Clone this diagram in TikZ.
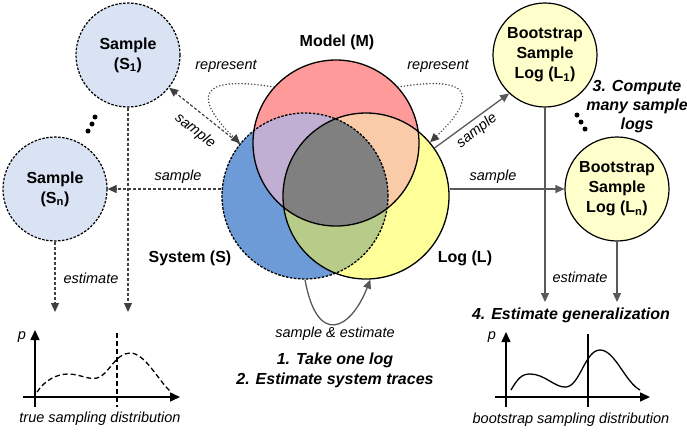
\documentclass[tikz,border=0pt]{standalone}
\usepackage{fontspec}
\setmainfont{Liberation Sans}
\usetikzlibrary{arrows.meta}

\begin{document}
\begin{tikzpicture}[x=1pt, y=-1pt,
  bigfont/.style={font=\fontsize{16}{20}\selectfont\bfseries},
  task/.style={font=\fontsize{16}{20}\selectfont\bfseries\itshape, align=center},
  lbl/.style={font=\fontsize{14.5}{17}\selectfont\itshape},
  venn/.style={circle, minimum size=166pt, inner sep=0pt, line width=1.3pt, draw=black},
  smp/.style={circle, minimum size=104pt, inner sep=0pt, draw=black, fill=smpblue, line width=1.2pt, dash pattern=on 2.5pt off 1.5pt, bigfont, align=center},
  boot/.style={circle, minimum size=104pt, inner sep=0pt, draw=black, fill=bootyellow, line width=1.2pt, bigfont, align=center},
  dasharr/.style={-{Triangle[length=9pt,width=8pt]}, draw=dashgray, line width=1.2pt, dash pattern=on 3pt off 2pt},
  solarr/.style={-{Triangle[length=9pt,width=8pt]}, draw=arrgray, line width=1.3pt},
  reparr/.style={-{Triangle[length=9pt,width=8pt]}, draw=dashgray, line width=1.6pt, dash pattern=on 0pt off 3.2pt, line cap=round},
  axis/.style={-{Triangle[length=10pt,width=9pt]}, line width=1.5pt}
]

% Colors
\definecolor{sysblue}{RGB}{109,155,216}    % system
\definecolor{logyellow}{RGB}{255,255,153}  % log
\definecolor{modred}{RGB}{255,154,154}     % model
\definecolor{mspurple}{RGB}{192,174,211}
\definecolor{mlpeach}{RGB}{249,203,168}
\definecolor{slgreen}{RGB}{182,204,136}
\definecolor{allgray}{RGB}{128,128,128}
\definecolor{smpblue}{RGB}{218,227,243}
\definecolor{bootyellow}{RGB}{255,255,204}
\definecolor{arrgray}{RGB}{89,89,89}
\definecolor{dashgray}{RGB}{64,64,64}

\useasboundingbox (0,0) rectangle (687,432);

% === VENN ===
\fill[sysblue] (305,196) circle (83);
\fill[logyellow] (366,196) circle (83);
\fill[modred] (336,143) circle (83);
\begin{scope}
  \clip (305,196) circle (83);
  \fill[slgreen] (366,196) circle (83);
\end{scope}
\begin{scope}
  \clip (336,143) circle (83);
  \fill[mspurple] (305,196) circle (83);
  \fill[mlpeach] (366,196) circle (83);
  \clip (305,196) circle (83);
  \fill[allgray] (366,196) circle (83);
\end{scope}

\node[venn, dash pattern=on 2.5pt off 1.5pt] (sys) at (305,196) {};
\node[venn] (mod) at (336,143) {};
\node[venn] (log) at (366,196) {};

\node[bigfont] (modlbl) at (337,42) {Model (M)};
\node[bigfont] (syslbl) at (190,258) {System (S)};
\node[bigfont] (loglbl) at (465,258) {Log (L)};

% === SAMPLES ===
\node[smp] (s1) at (128,55) {Sample\\(S\textsubscript{1})};
\node[smp] (sn) at (55,189) {Sample\\(S\textsubscript{n})};
\fill (95,117) circle (2.5);
\fill (92,124) circle (2.5);
\fill (88,131) circle (2.5);

% === BOOTSTRAP LOGS ===
\node[boot] (l1) at (545,55) {Bootstrap\\Sample\\Log (L\textsubscript{1})};
\node[boot] (ln) at (617,189) {Bootstrap\\Sample\\Log (L\textsubscript{n})};
\fill (577,115) circle (2.5);
\fill (581,122) circle (2.5);
\fill (585,129) circle (2.5);
\node[task, font=\fontsize{16}{19}\selectfont\bfseries\itshape] (compute) at (637,107) {3. Compute\\many sample\\logs};

% === ARROWS ===
\draw[reparr] (mod.138) .. controls +(-92,-15) and +(-35,-34) .. (sys.141);
\draw[reparr] (mod.42) .. controls +(92,-15) and +(35,-33) .. (log.40);
\node[lbl] (repl) at (226,66) {represent};
\node[lbl] (repr) at (438,66) {represent};

\draw[dasharr] (sys) -- (s1);
\node[lbl, rotate=-38] (smpa) at (195,131) {sample};
\draw[dasharr] (sys.west |- sn) -- (sn);
\node[lbl] (smpb) at (178,177) {sample};

\draw[solarr] (log.35) -- (l1.227);
\node[lbl, rotate=38] (smpc) at (477,131) {sample};
\draw[solarr] (log.east |- ln) -- (ln);
\node[lbl] (smpd) at (493,177) {sample};

\draw[solarr] (sys.south) .. controls +(12,67) and +(-20,51) .. (log.-87);
\node[lbl] (smpest) at (335,334) {sample \& estimate};
\node[task] (steps) at (335,370) {1. Take one log\\2. Estimate system traces};

% === ESTIMATE ===
\coordinate (s1end) at (128,312);
\coordinate (snend) at (55,312);
\draw[dasharr] (s1.south) -- (s1end);
\draw[dasharr] (sn.south) -- (snend);
\node[lbl] (estl) at (91,278) {estimate};

\coordinate (l1end) at (545,302);
\coordinate (lnend) at (617,302);
\draw[solarr] (l1.south) -- (l1end);
\draw[solarr] (ln.south) -- (lnend);
\node[lbl] (estr) at (580,277) {estimate};
\node[task] (gen) at (571,315) {4. Estimate generalization};

% === TRUE DISTRIBUTION ===
\draw[axis] (23,397) -- (180,397);
\draw[axis] (35,407) -- (35,330);
\node[lbl] (pl) at (22,337) {p};
\draw[line width=1.3pt, dash pattern=on 5pt off 3pt] (37,392) .. controls (45,380) and (57,374) .. (68,374)
  .. controls (80,374) and (88,380) .. (97,378) .. controls (108,376) and (115,353) .. (130,353)
  .. controls (145,353) and (158,380) .. (170,391);
\draw[line width=1.3pt, dash pattern=on 5pt off 3pt] (117,333) -- (117,407);
\node[lbl] (truedist) at (100,419) {true sampling distribution};

% === BOOTSTRAP DISTRIBUTION ===
\draw[axis] (495,397) -- (650,397);
\draw[axis] (506,407) -- (506,332);
\node[lbl] (pr) at (492,337) {p};
\draw[line width=1.3pt] (511,390) .. controls (518,378) and (522,374) .. (530,374)
  .. controls (545,374) and (555,388) .. (566,387) .. controls (580,386) and (585,350) .. (600,350)
  .. controls (615,350) and (625,382) .. (640,390);
\draw[line width=1.3pt] (588,334) -- (588,407);
\node[lbl] (bootdist) at (571,420) {bootstrap sampling distribution};

\end{tikzpicture}
\end{document}
